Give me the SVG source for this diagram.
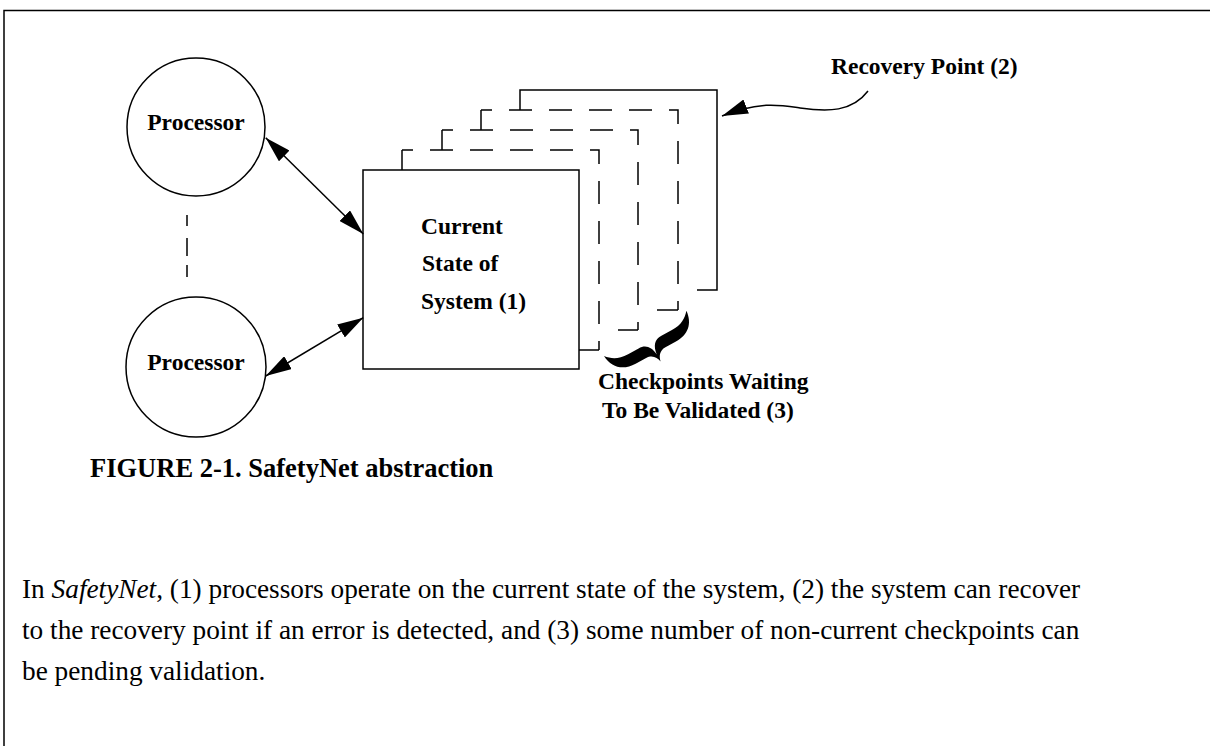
<svg xmlns="http://www.w3.org/2000/svg" width="1210" height="746" viewBox="0 0 1210 746">
  <defs>
    <style>
      .line { fill: none; stroke: #000; stroke-width: 1.5; }
      .dash { fill: none; stroke: #000; stroke-width: 1.5; stroke-dasharray: 23 17; stroke-dashoffset: 12; }
      .label { font-family: "Liberation Serif", "Times New Roman", serif; font-weight: bold; font-size: 23.5px; fill: #000; }
      .caption { font-family: "Liberation Serif", "Times New Roman", serif; font-weight: bold; font-size: 26.5px; fill: #000; }
      .body { font-family: "Liberation Serif", "Times New Roman", serif; font-size: 27.3px; fill: #000; }
    </style>
    <marker id="head" viewBox="0 0 26 15" refX="26" refY="7.5" markerWidth="26" markerHeight="15" markerUnits="userSpaceOnUse" orient="auto-start-reverse">
      <path d="M0,0 L26,7.5 L0,15 Z" fill="#000"/>
    </marker>
  </defs>

  <rect width="1210" height="746" fill="#fff"/>

  <!-- frame: top and left rules -->
  <path class="line" d="M4,746 V10.5 H1210" stroke-width="2"/>

  <!-- processors -->
  <g id="processor-top">
    <circle class="line" cx="196" cy="127" r="69"/>
    <text class="label" x="196" y="130" text-anchor="middle">Processor</text>
  </g>
  <g id="processor-bottom">
    <circle class="line" cx="196" cy="367" r="70"/>
    <text class="label" x="196" y="370" text-anchor="middle">Processor</text>
  </g>

  <!-- stacked checkpoints behind the current state -->
  <g id="checkpoint-4">
    <path class="line" d="M520,110 V90 H717 V290 H697"/>
  </g>
  <g id="checkpoint-3">
    <path class="line" d="M481,130 V110"/>
    <path class="dash" d="M481,110 H678 V310"/>
    <path class="line" d="M678,310 H657"/>
  </g>
  <g id="checkpoint-2">
    <path class="line" d="M442,150 V130"/>
    <path class="dash" d="M442,130 H638 V330"/>
    <path class="line" d="M638,330 H618"/>
  </g>
  <g id="checkpoint-1">
    <path class="line" d="M402,170 V150"/>
    <path class="dash" d="M402,150 H599 V350"/>
    <path class="line" d="M599,350 H579"/>
  </g>

  <!-- current state -->
  <g id="current-state">
    <rect class="line" x="363" y="170" width="216" height="199" fill="#fff"/>
    <text class="label" x="421" y="234">Current</text>
    <text class="label" x="422" y="271">State of</text>
    <text class="label" x="421" y="309">System (1)</text>
  </g>

  <!-- labels -->
  <g id="recovery-point">
    <text class="label" x="831" y="74">Recovery Point (2)</text>
  </g>
  <g id="pending-checkpoints">
    <!-- brace grouping the unvalidated checkpoints -->
    <path d="M0,0 C1,14 10,22 24,22 L36,22 C43,22 46,27 47,32 C48,27 51,22 58,22 L70,22 C84,22 93,14 94,0 C89,6 83,10 72,10 L60,10 C52,10 48,15 47,24 C46,15 42,10 34,10 L22,10 C11,10 5,6 0,0 Z" transform="translate(604,356) rotate(-28.8)" fill="#000"/>
    <text class="label" x="598" y="389">Checkpoints Waiting</text>
    <text class="label" x="602" y="418">To Be Validated (3)</text>
  </g>

  <!-- connectors -->
  <g id="connectors">
    <line class="line" x1="265.7" y1="137.7" x2="363.3" y2="234" marker-start="url(#head)" marker-end="url(#head)"/>
    <line class="line" x1="265.7" y1="376" x2="363.3" y2="317.7" marker-start="url(#head)" marker-end="url(#head)"/>
    <path class="line" d="M187,215 V277" stroke-dasharray="11 12 18 9 12"/>
    <path class="line" d="M868,91 C852,112 828,112 800,108 C780,105 760,101 722,116" marker-end="url(#head)"/>
  </g>

  <!-- caption and description -->
  <text class="caption" x="90" y="477">FIGURE 2-1. SafetyNet abstraction</text>
  <text class="body" x="22" y="598">In <tspan font-style="italic">SafetyNet</tspan>, (1) processors operate on the current state of the system, (2) the system can recover</text>
  <text class="body" x="22" y="639">to the recovery point if an error is detected, and (3) some number of non-current checkpoints can</text>
  <text class="body" x="22" y="680">be pending validation.</text>
</svg>
